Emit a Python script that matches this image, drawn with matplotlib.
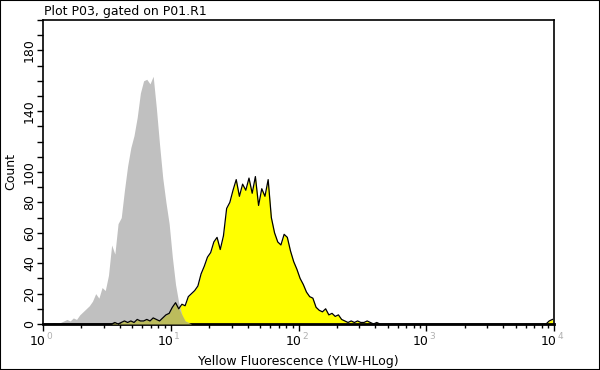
import numpy as np
import matplotlib
matplotlib.use("Agg")
import matplotlib.pyplot as plt
from matplotlib.patches import Rectangle
from matplotlib.ticker import LogLocator, NullFormatter

# histogram channels: 40 bins per decade, 10^0 .. 10^4
bins_per_decade = 40
n_bins = 4 * bins_per_decade

# control sample (gray), counts per bin starting at bin 0
gray_counts = [
    0, 0, 0, 1, 0, 1, 2, 3, 2, 4,
    3, 6, 8, 10, 12, 15, 20, 17, 24, 22,
    32, 52, 46, 66, 70, 88, 104, 116, 124, 136,
    152, 160, 161, 158, 163, 142, 118, 96, 80, 66,
    44, 26, 14, 6, 2, 1,
]

# stained sample (yellow), counts per bin starting at bin 0
yellow_counts = [
    0, 0, 0, 0, 0, 0, 0, 0, 0, 0,
    0, 0, 0, 0, 0, 0, 0, 0, 0, 0,
    0, 0, 1, 0, 1, 2, 1, 2, 1, 3,
    2, 2, 3, 2, 4, 3, 2, 4, 6, 7,
    11, 14, 10, 13, 12, 18, 20, 22, 25, 33,
    38, 44, 47, 54, 57, 49, 58, 76, 80, 88,
    95, 84, 92, 88, 96, 86, 97, 78, 89, 84,
    95, 70, 60, 54, 52, 59, 57, 48, 41, 36,
    30, 26, 21, 18, 17, 11, 9, 8, 10, 6,
    7, 5, 6, 3, 2, 1, 2, 1, 2, 1,
    1, 2, 1, 0, 1, 0, 0, 0, 0, 0,
    0, 0, 0, 0, 0, 0, 0, 0, 0, 0,
    0, 0, 0, 0, 0, 0, 0, 0, 0, 0,
    0, 0, 0, 0, 0, 0, 0, 0, 0, 0,
    0, 0, 0, 0, 0, 0, 0, 0, 0, 0,
    0, 0, 0, 0, 0, 0, 0, 0, 2, 3,
]

y_labelled = [0, 20, 40, 60, 80, 100, 140, 180]
x_decades = [0, 1, 2, 3, 4]

centers = np.logspace(0, 4, n_bins + 1)
centers = np.sqrt(centers[:-1] * centers[1:])
gray = np.zeros(n_bins)
gray[:len(gray_counts)] = gray_counts
yellow = np.zeros(n_bins)
yellow[:len(yellow_counts)] = yellow_counts
overlap = np.minimum(gray, yellow)

fig = plt.figure(figsize=(6, 3.7), dpi=100)
ax = fig.add_axes([43 / 600, 46 / 370, 511 / 600, 304 / 370])

ax.fill_between(centers, 0, yellow, color="#ffff00", linewidth=0, zorder=1)
ax.fill_between(centers, 0, gray, color="#c0c0c0", linewidth=0, zorder=2)
ax.fill_between(centers, 0, overlap, color="#bcbc5c", linewidth=0, zorder=3)
ax.plot(centers, yellow, color="black", linewidth=0.9, zorder=4)

ax.set_xscale("log")
ax.set_xlim(1, 1e4)
ax.set_ylim(0, 200)

ax.xaxis.set_major_locator(LogLocator(base=10))
ax.xaxis.set_minor_locator(LogLocator(base=10, subs=np.arange(2, 10)))
ax.xaxis.set_major_formatter(NullFormatter())
ax.xaxis.set_minor_formatter(NullFormatter())
ax.tick_params(axis="x", which="major", length=5, width=1, direction="out")
ax.tick_params(axis="x", which="minor", length=3, width=1, direction="out")

# "10" with a pale exponent, like the instrument software draws it
for d in x_decades:
    ax.annotate("10", xy=(10 ** d, 0), xycoords=("data", "axes fraction"),
                xytext=(2, -8), textcoords="offset points",
                ha="right", va="top", fontsize=9)
    ax.annotate(str(d), xy=(10 ** d, 0), xycoords=("data", "axes fraction"),
                xytext=(2.5, -6), textcoords="offset points",
                ha="left", va="top", fontsize=6.5, color="#b0b0b0")

y_ticks = list(range(0, 201, 10))
ax.set_yticks(y_ticks)
ax.set_yticklabels([str(v) if v in y_labelled else "" for v in y_ticks],
                   rotation=90, va="center", fontsize=9)
ax.tick_params(axis="y", length=4, width=1, direction="out", pad=1)

for side in ["left", "top", "right"]:
    ax.spines[side].set_linewidth(1.2)
ax.spines["bottom"].set_linewidth(2)

ax.set_xlabel("Yellow Fluorescence (YLW-HLog)", fontsize=9, labelpad=14)
ax.set_ylabel("Count", fontsize=9, labelpad=4)

fig.text(44 / 600, 1 - 11 / 370, "Plot P03, gated on P01.R1", fontsize=9,
         ha="left", va="center")

fig.patches.append(Rectangle((0, 0), 1, 1, transform=fig.transFigure,
                             fill=False, edgecolor="black", linewidth=1.5))

fig.savefig("out.png", dpi=100)
